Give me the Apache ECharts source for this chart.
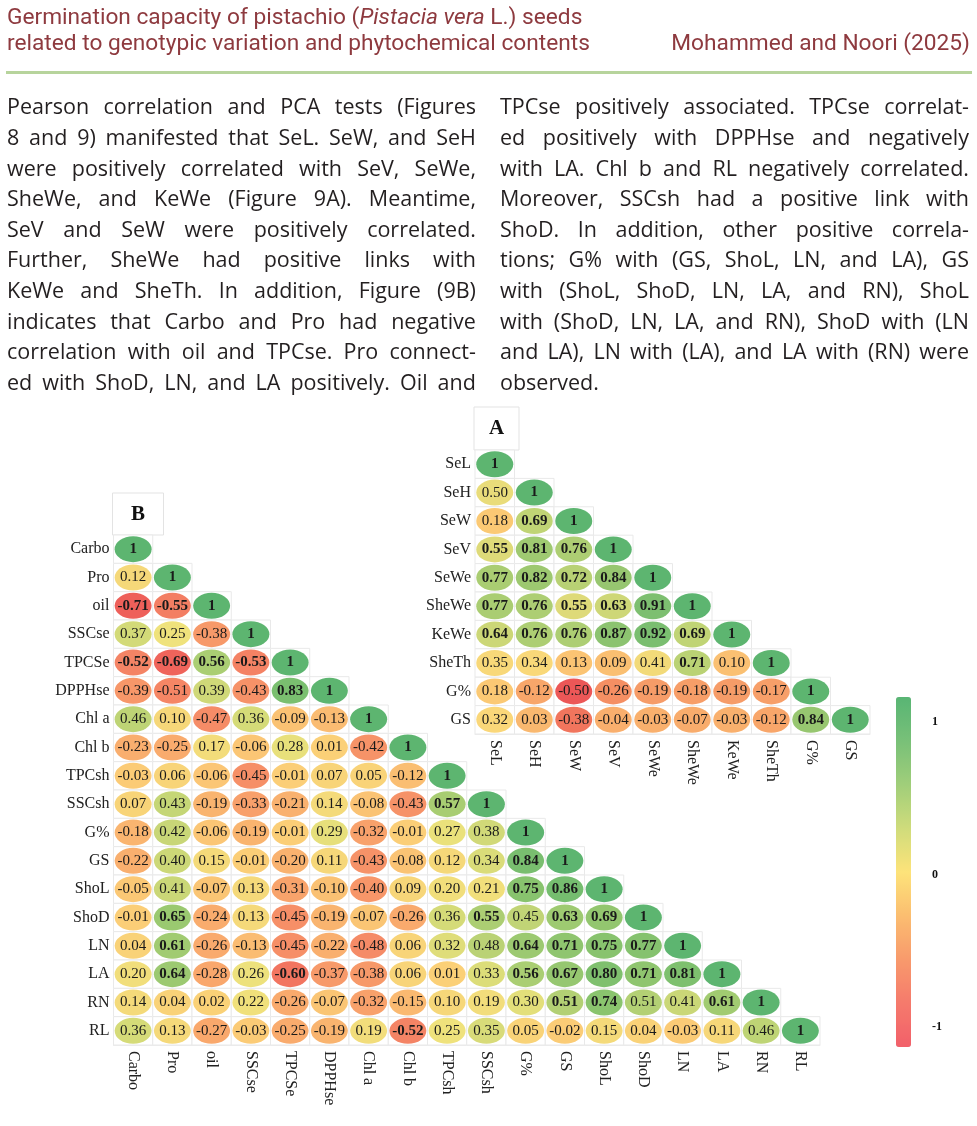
<!DOCTYPE html>
<html>
<head>
<meta charset="utf-8">
<script src="https://cdn.jsdelivr.net/npm/echarts@6/dist/echarts.min.js"></script>
<style>
  html, body { margin:0; padding:0; background:#fff; }
  body { width:977px; height:1126px; position:relative; overflow:hidden; }
  #chart { position:absolute; left:0; top:0; width:977px; height:1126px; z-index:0; }
  .hdr { position:absolute; font-family:Roboto, "Liberation Sans", Arial, sans-serif; font-size:22.7px; line-height:26px; color:#8e3a3f; white-space:nowrap; z-index:1; }
  #rule { position:absolute; left:6px; top:71px; width:966px; height:3px; background:#b7d49c; z-index:1; }
  .col { position:absolute; top:91.4px; width:469px; font-family:"Open Sans", "Noto Sans", sans-serif; font-size:21.5px; line-height:30.6px; color:#231f20; z-index:1; }
  .ln { display:flex; justify-content:space-between; white-space:nowrap; height:30.6px; width:469px; }
  .ln.last { justify-content:flex-start; }
</style>
</head>
<body>
<div class="hdr" id="h1" style="left:7px; top:3.5px;">Germination capacity of pistachio (<i>Pistacia vera</i> L.) seeds</div>
<div class="hdr" id="h2" style="left:7px; top:29.5px;">related to genotypic variation and phytochemical contents</div>
<div class="hdr" id="h3" style="right:7px; top:29.5px;">Mohammed and Noori (2025)</div>
<div id="rule"></div>
<div class="col" id="colL" style="left:7px;"></div>
<div class="col" id="colR" style="left:500px;"></div>
<div id="chart"></div>
<script>
// ---------- text ----------
const textLeft = [
  "Pearson correlation and PCA tests (Figures",
  "8 and 9) manifested that SeL. SeW, and SeH",
  "were positively correlated with SeV, SeWe,",
  "SheWe, and KeWe (Figure 9A). Meantime,",
  "SeV and SeW were positively correlated.",
  "Further, SheWe had positive links with",
  "KeWe and SheTh. In addition, Figure (9B)",
  "indicates that Carbo and Pro had negative",
  "correlation with oil and TPCse. Pro connect-",
  "ed with ShoD, LN, and LA positively. Oil and"
];
const textRight = [
  "TPCse positively associated. TPCse correlat-",
  "ed positively with DPPHse and negatively",
  "with LA. Chl b and RL negatively correlated.",
  "Moreover, SSCsh had a positive link with",
  "ShoD. In addition, other positive correla-",
  "tions; G% with (GS, ShoL, LN, and LA), GS",
  "with (ShoL, ShoD, LN, LA, and RN), ShoL",
  "with (ShoD, LN, LA, and RN), ShoD with (LN",
  "and LA), LN with (LA), and LA with (RN) were",
  "observed."
];
function fillCol(el, lines){
  lines.forEach(function(l){
    const d = document.createElement('div');
    d.className = 'ln' + (l === 'observed.' ? ' last' : '');
    const words = l.split(' ');
    words.forEach(function(w){
      const s = document.createElement('span'); s.textContent = w; d.appendChild(s);
    });
    el.appendChild(d);
    // keep a minimum word gap: tighten letters if the line is too long
    let total = 0;
    Array.prototype.forEach.call(d.children, function(s){ total += s.getBoundingClientRect().width; });
    const minGap = 4.5 * (words.length - 1);
    if (total + minGap > 469) {
      const chars = l.replace(/ /g, '').length;
      d.style.letterSpacing = (-(total + minGap - 469) / chars) + 'px';
    }
  });
}
fillCol(document.getElementById('colL'), textLeft);
fillCol(document.getElementById('colR'), textRight);

// ---------- data ----------
const varsA = ['SeL','SeH','SeW','SeV','SeWe','SheWe','KeWe','SheTh','G%','GS'];
const corrA = [
  [1],
  [0.50, 1],
  [0.18, 0.69, 1],
  [0.55, 0.81, 0.76, 1],
  [0.77, 0.82, 0.72, 0.84, 1],
  [0.77, 0.76, 0.55, 0.63, 0.91, 1],
  [0.64, 0.76, 0.76, 0.87, 0.92, 0.69, 1],
  [0.35, 0.34, 0.13, 0.09, 0.41, 0.71, 0.10, 1],
  [0.18, -0.12, -0.50, -0.26, -0.19, -0.18, -0.19, -0.17, 1],
  [0.32, 0.03, -0.38, -0.04, -0.03, -0.07, -0.03, -0.12, 0.84, 1]
];
// columns printed in bold (significant), per row
const boldA = [[],[],[1],[0,1,2],[0,1,2,3],[0,1,2,3,4],[0,1,2,3,4,5],[5],[],[8]];

const varsB = ['Carbo','Pro','oil','SSCse','TPCSe','DPPHse','Chl a','Chl b','TPCsh','SSCsh','G%','GS','ShoL','ShoD','LN','LA','RN','RL'];
const corrB = [
  [1],
  [0.12, 1],
  [-0.71, -0.55, 1],
  [0.37, 0.25, -0.38, 1],
  [-0.52, -0.69, 0.56, -0.53, 1],
  [-0.39, -0.51, 0.39, -0.43, 0.83, 1],
  [0.46, 0.10, -0.47, 0.36, -0.09, -0.13, 1],
  [-0.23, -0.25, 0.17, -0.06, 0.28, 0.01, -0.42, 1],
  [-0.03, 0.06, -0.06, -0.45, -0.01, 0.07, 0.05, -0.12, 1],
  [0.07, 0.43, -0.19, -0.33, -0.21, 0.14, -0.08, -0.43, 0.57, 1],
  [-0.18, 0.42, -0.06, -0.19, -0.01, 0.29, -0.32, -0.01, 0.27, 0.38, 1],
  [-0.22, 0.40, 0.15, -0.01, -0.20, 0.11, -0.43, -0.08, 0.12, 0.34, 0.84, 1],
  [-0.05, 0.41, -0.07, 0.13, -0.31, -0.10, -0.40, 0.09, 0.20, 0.21, 0.75, 0.86, 1],
  [-0.01, 0.65, -0.24, 0.13, -0.45, -0.19, -0.07, -0.26, 0.36, 0.55, 0.45, 0.63, 0.69, 1],
  [0.04, 0.61, -0.26, -0.13, -0.45, -0.22, -0.48, 0.06, 0.32, 0.48, 0.64, 0.71, 0.75, 0.77, 1],
  [0.20, 0.64, -0.28, 0.26, -0.60, -0.37, -0.38, 0.06, 0.01, 0.33, 0.56, 0.67, 0.80, 0.71, 0.81, 1],
  [0.14, 0.04, 0.02, 0.22, -0.26, -0.07, -0.32, -0.15, 0.10, 0.19, 0.30, 0.51, 0.74, 0.51, 0.41, 0.61, 1],
  [0.36, 0.13, -0.27, -0.03, -0.25, -0.19, 0.19, -0.52, 0.25, 0.35, 0.05, -0.02, 0.15, 0.04, -0.03, 0.11, 0.46, 1]
];
const boldB = [[],[],[0,1],[],[0,1,2,3],[4],[],[],[],[8],[],[10],[10,11],[1,9,11,12],[1,10,11,12,13],[1,4,10,11,12,13,14],[11,12,15],[7]];

const legendTicks = [-1, 0, 1];

// ---------- build ----------
function cells(corr){
  const out = [];
  corr.forEach(function(row, i){ row.forEach(function(v, j){ out.push([j, i]); }); });
  return out;
}
function points(corr, bold){
  const out = [];
  corr.forEach(function(row, i){
    row.forEach(function(v, j){
      const b = (i === j) || bold[i].indexOf(j) >= 0;
      out.push({ value:[j, i, v], label:{ fontWeight: b ? 'bold' : 'normal' } });
    });
  });
  return out;
}
function cellRender(params, api){
  const c = api.coord([api.value(0), api.value(1)]);
  const s = api.size([1, 1]);
  return { type:'rect', shape:{ x:c[0]-s[0]/2, y:c[1]-s[1]/2, width:s[0], height:s[1] },
           style:{ fill:'#ffffff', stroke:'#e9e9e9', lineWidth:1 } };
}
const serif = '"Liberation Serif", "Times New Roman", serif';
function xAx(gi, data){
  return { type:'category', gridIndex:gi, data:data, position:'bottom',
    axisLine:{ show:true, lineStyle:{ color:'#ececec' } }, axisTick:{ show:false }, splitLine:{ show:false },
    axisLabel:{ interval:0, rotate:-90, fontFamily:serif, fontSize:16, color:'#222', margin:6 } };
}
function yAx(gi, data){
  return { type:'category', gridIndex:gi, data:data, inverse:true,
    axisLine:{ show:false }, axisTick:{ show:false }, splitLine:{ show:false },
    axisLabel:{ interval:0, fontFamily:serif, fontSize:16, color:'#222', margin:4 } };
}
function scatterSeries(gi, corr, bold){
  return { type:'scatter', xAxisIndex:gi, yAxisIndex:gi, data:points(corr, bold), symbol:'circle',
    symbolSize:[37, 26], silent:true, itemStyle:{ opacity:1 },
    label:{ show:true, position:'inside', fontFamily:serif, fontSize:15, color:'#1a1a1a',
      formatter:function(p){ const v = p.value[2]; return v === 1 ? '1' : v.toFixed(2); } },
    emphasis:{ disabled:true } };
}

const chart = echarts.init(document.getElementById('chart'), null, { renderer:'canvas' });
chart.setOption({
  animation:false,
  backgroundColor:'transparent',
  grid:[
    { left:475, top:450, width:395, height:284 },
    { left:113.5, top:535, width:706.5, height:510 },
    { left:896, top:722, width:15, height:305 }
  ],
  xAxis:[ xAx(0, varsA), xAx(1, varsB),
    { type:'value', gridIndex:2, show:false } ],
  yAxis:[ yAx(0, varsA), yAx(1, varsB),
    { type:'value', gridIndex:2, min:-1, max:1, interval:1, position:'right',
      axisLine:{ show:false }, axisTick:{ show:false }, splitLine:{ show:false },
      axisLabel:{ margin:21, fontFamily:serif, fontWeight:'bold', fontSize:12, color:'#111',
        formatter:function(v){ return legendTicks.indexOf(v) >= 0 ? String(v) : ''; } } } ],
  visualMap:[
    { show:false, type:'continuous', seriesIndex:1, dimension:2, min:-0.5, max:1,
      inRange:{ color:['#ec5757','#f3815f','#f7a069','#f9b46e','#fbc874','#fad879','#e9dc7a','#c6d676','#99c770','#5db570'] } },
    { show:false, type:'continuous', seriesIndex:3, dimension:2, min:-0.75, max:1,
      inRange:{ color:['#ed5858','#f58866','#f9ab6d','#fbcf77','#efe27c','#b5d174','#88c36e','#5db570'] } },
    { show:true, type:'continuous', seriesIndex:4, min:-1.16, max:1.16, left:896, top:697,
      itemWidth:15, itemHeight:350, padding:0, calculable:false, text:null, hoverLink:false,
      inRange:{ color:['#f2606a','#f57a6c','#f89a6c','#fbbd70','#fde37a','#cfdc7b','#a0ce7a','#78c078','#58b574'] } }
  ],
  graphic:[
    { type:'rect', shape:{ x:474, y:407, width:45, height:43 }, style:{ fill:'#fff', stroke:'#e3e3e3', lineWidth:1 } },
    { type:'text', x:496.5, y:429, style:{ text:'A', font:'bold 21px ' + serif, fill:'#111', align:'center', verticalAlign:'middle' } },
    { type:'rect', shape:{ x:112.5, y:493, width:51, height:42 }, style:{ fill:'#fff', stroke:'#e3e3e3', lineWidth:1 } },
    { type:'text', x:138, y:515, style:{ text:'B', font:'bold 21px ' + serif, fill:'#111', align:'center', verticalAlign:'middle' } }
  ],
  series:[
    { type:'custom', xAxisIndex:0, yAxisIndex:0, data:cells(corrA), renderItem:cellRender, silent:true, encode:{ x:0, y:1 } },
    scatterSeries(0, corrA, boldA),
    { type:'custom', xAxisIndex:1, yAxisIndex:1, data:cells(corrB), renderItem:cellRender, silent:true, encode:{ x:0, y:1 } },
    scatterSeries(1, corrB, boldB),
    { type:'scatter', xAxisIndex:2, yAxisIndex:2, data:[], silent:true }
  ]
});
</script>
</body>
</html>
